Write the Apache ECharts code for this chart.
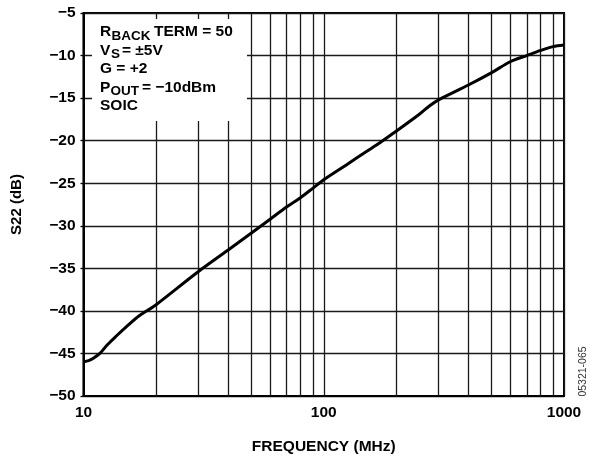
<!DOCTYPE html>
<html>
<head>
<meta charset="utf-8">
<script src="https://cdn.jsdelivr.net/npm/echarts@6/dist/echarts.min.js"></script>
<style>html,body{margin:0;padding:0;background:#fff}#c{width:590px;height:459px}</style>
</head>
<body>
<div id="c"></div>
<script>
// Data
var freqMHz = [10, 10.5, 10.95, 11.7, 12.6, 13.7, 15.1, 17, 20, 30, 40, 50, 60, 70, 80, 90, 100, 125, 150, 170, 200, 250, 276, 303, 400, 500, 600, 700, 800, 900, 1000];
var s22dB   = [-46.0, -45.85, -45.6, -45.0, -43.95, -42.95, -41.85, -40.6, -39.3, -35.4, -32.85, -30.85, -29.2, -27.8, -26.7, -25.6, -24.6, -22.8, -21.3, -20.3, -18.9, -16.9, -15.9, -15.15, -13.46, -12.0, -10.7, -10.0, -9.4, -8.95, -8.76];
var xMinorGrid = [20, 30, 40, 50, 60, 70, 80, 90, 200, 300, 400, 500, 600, 700, 800, 900];
var xTickLabels = [10, 100, 1000];
var yMin = -50, yMax = -5, yStep = 5;

var FONT = '"Liberation Sans", Arial, Helvetica, sans-serif';
var chart = echarts.init(document.getElementById('c'), null, {renderer: 'canvas'});

function minus(v) { return (v < 0 ? '\u2212' : '') + Math.abs(v); }

var seriesData = freqMHz.map(function (f, i) { return [f, s22dB[i]]; });

var legendText = { fill: '#000', font: 'bold 15.5px ' + FONT, textVerticalAlign: 'middle' };
var subText = { fill: '#000', font: 'bold 13.5px ' + FONT, textVerticalAlign: 'middle' };
function T(x, y, s, sub) {
  var st = Object.assign({}, sub ? subText : legendText, { text: s, x: x, y: y });
  return { type: 'text', style: st, z: 20 };
}

chart.setOption({
  animation: false,
  backgroundColor: '#fff',
  grid: { left: 83.5, right: 26, top: 13, bottom: 63, outerBoundsMode: 'none', containLabel: false,
    show: true, borderColor: '#000', borderWidth: 2, backgroundColor: 'transparent' },
  xAxis: {
    type: 'log', logBase: 10, min: 10, max: 1000,
    name: 'FREQUENCY (MHz)', nameLocation: 'middle', nameGap: 43,
    nameTextStyle: { fontFamily: FONT, fontWeight: 'bold', fontSize: 15.5, color: '#000' },
    axisLine: { show: true, lineStyle: { color: '#000', width: 2 } },
    axisTick: { show: false },
    axisLabel: { show: true, margin: 9, fontFamily: FONT, fontWeight: 'bold', fontSize: 15.5, color: '#000',
      formatter: function (v) { return xTickLabels.indexOf(Math.round(v)) >= 0 ? String(Math.round(v)) : ''; } },
    splitLine: { show: true, lineStyle: { color: '#1a1a1a', width: 1.3 } }
  },
  yAxis: {
    type: 'value', min: yMin, max: yMax, interval: yStep,
    name: 'S22 (dB)', nameLocation: 'middle', nameGap: 59, nameRotate: 90,
    nameTextStyle: { fontFamily: FONT, fontWeight: 'bold', fontSize: 15, color: '#000' },
    axisLine: { show: true, lineStyle: { color: '#000', width: 2 } },
    axisTick: { show: true, inside: false, length: 3, lineStyle: { color: '#000', width: 1.3 } },
    axisLabel: { margin: 8, fontFamily: FONT, fontWeight: 'bold', fontSize: 15.5, color: '#000', formatter: minus },
    splitLine: { show: true, lineStyle: { color: '#1a1a1a', width: 1.3 } }
  },
  series: [{
    type: 'line',
    data: seriesData,
    showSymbol: false,
    smooth: 0.3,
    lineStyle: { color: '#000', width: 3 },
    z: 5,
    markLine: {
      silent: true, symbol: 'none', label: { show: false },
      lineStyle: { color: '#1a1a1a', width: 1.3, type: 'solid' },
      emphasis: { disabled: true },
      data: xMinorGrid.map(function (f) { return { xAxis: f }; })
    }
  }],
  graphic: [
    { type: 'rect', shape: { x: 92, y: 19, width: 155, height: 102 }, style: { fill: '#fff' }, z: 10 },
    T(100, 32, 'R'), T(111.5, 36, 'BACK', true), T(154, 32, 'TERM = 50'),
    T(100, 50.5, 'V'), T(111, 54, 'S', true), T(122, 50.5, '= \u00b15V'),
    T(100, 69, 'G = +2'),
    T(100, 87.5, 'P'), T(110.5, 91, 'OUT', true), T(142, 87.5, '= \u221210dBm'),
    T(100, 105.5, 'SOIC'),
    { type: 'text', x: 583, y: 371.5, rotation: Math.PI / 2, z: 20,
      style: { text: '05321-065', fill: '#333', font: '10.5px ' + FONT, textAlign: 'center', textVerticalAlign: 'middle' } }
  ]
});
</script>
</body>
</html>
